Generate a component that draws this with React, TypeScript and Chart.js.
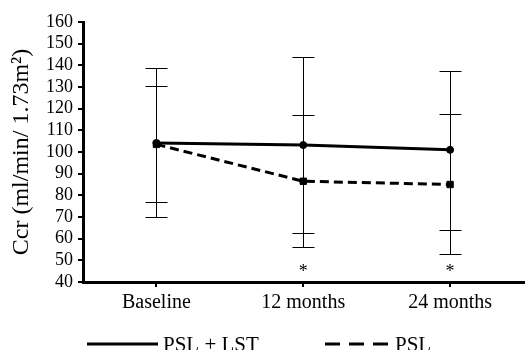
import React, { useEffect, useRef } from "react";
import { Chart, registerables } from "chart.js";

Chart.register(...registerables);

const categories = ["Baseline", "12 months", "24 months"];
const pslLstMean = [104.2, 103.2, 101];
const pslLstUpper = [139, 144, 137.6];
const pslLstLower = [70, 62.8, 64];
const pslMean = [103.5, 86.5, 85];
const pslUpper = [130.4, 117.1, 117.4];
const pslLower = [76.8, 56, 53];
const significant = [false, true, true];
const yTicks = [40, 50, 60, 70, 80, 90, 100, 110, 120, 130, 140, 150, 160];
const legendLabels = ["PSL + LST", "PSL"];

const FONT = "'Liberation Serif', 'Times New Roman', serif";

const extrasPlugin = {
  id: "extras",
  beforeDatasetsDraw(chart: any) {
    const ctx = chart.ctx;
    const x = chart.scales.x;
    const y = chart.scales.y;
    ctx.save();
    ctx.strokeStyle = "#000";
    ctx.lineWidth = 1;
    const cap = 11;
    const draw = (i: number, hi: number, lo: number) => {
      const px = Math.round(x.getPixelForValue(i)) + 0.5;
      const yh = Math.round(y.getPixelForValue(hi)) + 0.5;
      const yl = Math.round(y.getPixelForValue(lo)) + 0.5;
      ctx.beginPath();
      ctx.moveTo(px, yh);
      ctx.lineTo(px, yl);
      ctx.moveTo(px - cap, yh);
      ctx.lineTo(px + cap, yh);
      ctx.moveTo(px - cap, yl);
      ctx.lineTo(px + cap, yl);
      ctx.stroke();
    };
    categories.forEach((_, i) => {
      draw(i, pslLstUpper[i], pslLstLower[i]);
      draw(i, pslUpper[i], pslLower[i]);
    });
    ctx.restore();
  },
  afterDraw(chart: any) {
    const ctx = chart.ctx;
    const x = chart.scales.x;
    const y = chart.scales.y;
    ctx.save();
    ctx.fillStyle = "#000";
    ctx.textAlign = "center";
    ctx.textBaseline = "middle";
    ctx.font = `18px ${FONT}`;
    significant.forEach((s, i) => {
      if (s) ctx.fillText("*", x.getPixelForValue(i), y.getPixelForValue(44.5));
    });
    // legend
    const ly = 344;
    ctx.strokeStyle = "#000";
    ctx.lineWidth = 3;
    ctx.beginPath();
    ctx.moveTo(87, ly);
    ctx.lineTo(158, ly);
    ctx.stroke();
    ctx.setLineDash([15, 9]);
    ctx.beginPath();
    ctx.moveTo(325, ly);
    ctx.lineTo(390, ly);
    ctx.stroke();
    ctx.setLineDash([]);
    ctx.textAlign = "left";
    ctx.font = `21px ${FONT}`;
    ctx.fillText(legendLabels[0], 163, ly + 1);
    ctx.fillText(legendLabels[1], 395, ly + 1);
    ctx.restore();
  },
};

export default function App() {
  const ref = useRef<HTMLCanvasElement>(null);
  useEffect(() => {
    if (!ref.current) return;
    const chart = new Chart(ref.current, {
      type: "line",
      data: {
        labels: categories,
        datasets: [
          {
            label: legendLabels[0],
            data: pslLstMean,
            borderColor: "#000",
            backgroundColor: "#000",
            borderWidth: 3,
            pointStyle: "circle",
            pointRadius: 3.5,
            pointBorderWidth: 1,
          },
          {
            label: legendLabels[1],
            data: pslMean,
            borderColor: "#000",
            backgroundColor: "#000",
            borderWidth: 3,
            borderDash: [9, 5],
            pointStyle: "rect",
            pointRadius: 4.5,
            pointBorderWidth: 1,
          },
        ],
      },
      options: {
        responsive: false,
        animation: false,
        layout: { padding: { top: 22, right: 0, bottom: 28, left: 0 } },
        plugins: {
          legend: { display: false },
          tooltip: { enabled: false },
        },
        scales: {
          x: {
            type: "category",
            offset: true,
            border: { display: true, color: "#000", width: 3 },
            grid: {
              display: true,
              drawOnChartArea: false,
              drawTicks: true,
              tickLength: 5,
              color: "#000",
              lineWidth: 2,
              offset: false,
            },
            ticks: {
              color: "#000",
              font: { family: FONT, size: 20 },
              padding: 4,
              autoSkip: false,
              maxRotation: 0,
            },
            afterFit: (s: any) => {
              s.height = 40;
            },
          },
          y: {
            min: 40,
            max: 160,
            afterBuildTicks: (s: any) => {
              s.ticks = yTicks.map((v) => ({ value: v }));
            },
            border: { display: true, color: "#000", width: 3 },
            grid: {
              display: true,
              drawOnChartArea: false,
              drawTicks: true,
              tickLength: 5,
              color: "#000",
              lineWidth: 2,
            },
            ticks: {
              color: "#000",
              font: { family: FONT, size: 18 },
              padding: 5,
              autoSkip: false,
            },
            title: {
              display: true,
              text: "Ccr (ml/min/ 1.73m²)",
              color: "#000",
              font: { family: FONT, size: 24 },
              padding: { top: 7, bottom: 0 },
            },
            afterFit: (s: any) => {
              s.width = 83;
            },
          },
        },
      },
      plugins: [extrasPlugin],
    });
    return () => chart.destroy();
  }, []);
  return (
    <div style={{ position: "fixed", left: 0, top: 0, width: 529, height: 350, background: "#fff" }}>
      <canvas ref={ref} width={529} height={350} style={{ display: "block" }} />
    </div>
  );
}
